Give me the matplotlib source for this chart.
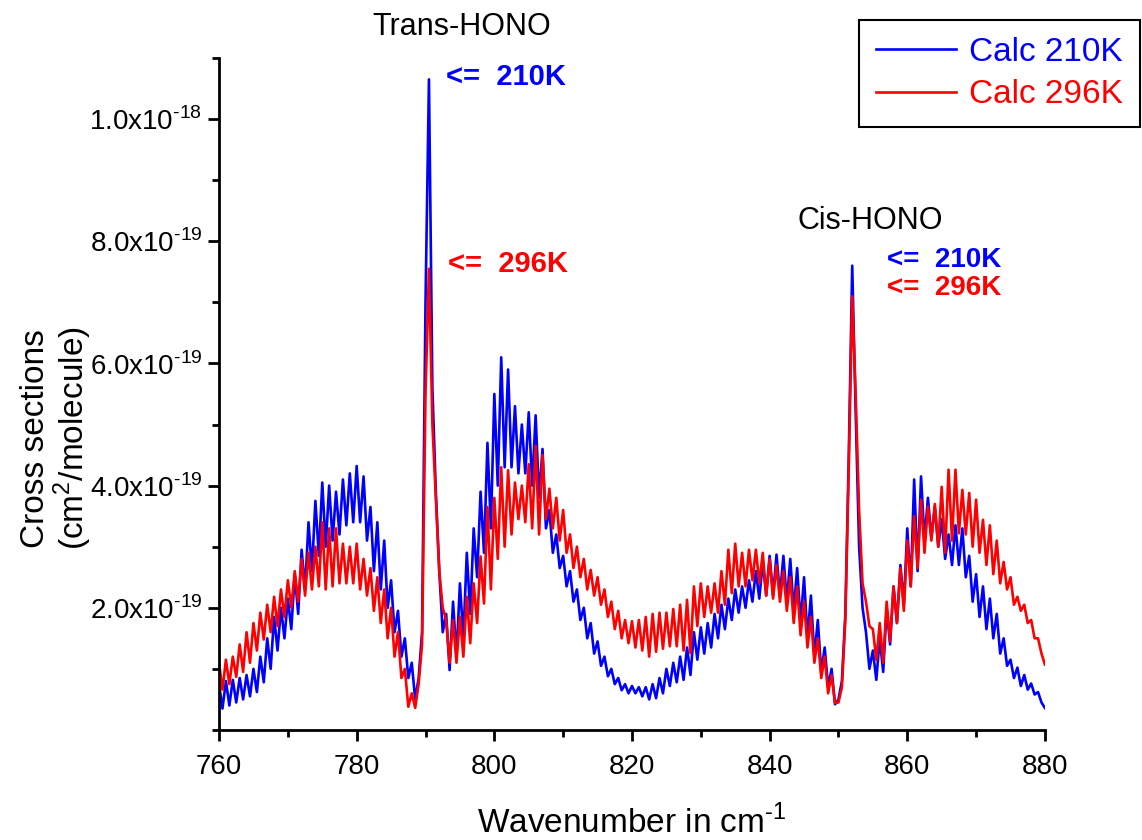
#
# HONO nu4 band cross sections, calculated at 210K and 296K
#
import numpy as np
import matplotlib
matplotlib.use('Agg')
import matplotlib.pyplot as plt
from matplotlib.ticker import MultipleLocator, FixedLocator, FuncFormatter

# wavenumber grid (cm-1), 0.5 step
wn_start, wn_stop, wn_step = 760.0, 880.0, 0.5

# cross sections in units of 1e-19 cm2/molecule
calc_210K = [
    0.75, 0.35, 0.80, 0.40, 0.82, 0.45, 0.85, 0.50, 0.90, 0.55,   # 760
    1.00, 0.62, 1.20, 0.78, 1.50, 1.00, 1.85, 1.30, 2.00, 1.50,   # 765
    2.15, 1.65, 2.55, 1.90, 2.95, 2.30, 3.40, 2.60, 3.75, 2.85,   # 770
    4.05, 3.00, 4.00, 3.10, 3.90, 3.20, 4.10, 3.35, 4.20, 3.40,   # 775
    4.32, 3.40, 4.15, 3.10, 3.65, 2.60, 3.40, 2.30, 3.10, 2.00,   # 780
    2.45, 1.60, 1.95, 1.20, 1.50, 0.85, 1.10, 0.50, 0.85, 1.60,   # 785
    7.00, 10.65, 5.60, 3.90, 2.60, 1.60, 1.90, 0.98, 2.10, 1.20,  # 790
    2.40, 1.50, 2.90, 1.90, 3.30, 2.50, 3.90, 2.90, 4.70, 3.30,   # 795
    5.50, 4.00, 6.10, 4.30, 5.90, 4.30, 5.30, 4.20, 5.00, 4.20,   # 800
    5.20, 4.00, 5.15, 3.80, 4.60, 3.30, 3.60, 2.90, 3.20, 2.65,   # 805
    2.85, 2.35, 2.60, 2.10, 2.30, 1.80, 2.00, 1.50, 1.75, 1.25,   # 810
    1.45, 1.05, 1.20, 0.88, 1.00, 0.75, 0.85, 0.65, 0.75, 0.60,   # 815
    0.72, 0.60, 0.70, 0.55, 0.70, 0.50, 0.75, 0.52, 0.85, 0.60,   # 820
    1.00, 0.72, 1.10, 0.78, 1.20, 0.82, 1.35, 0.90, 1.60, 1.15,   # 825
    1.68, 1.25, 1.75, 1.35, 1.90, 1.50, 2.05, 1.65, 2.15, 1.80,   # 830
    2.30, 1.92, 2.35, 2.00, 2.45, 2.10, 2.60, 2.15, 2.75, 2.20,   # 835
    2.85, 2.20, 2.87, 2.20, 2.85, 2.10, 2.80, 1.95, 2.65, 1.75,   # 840
    2.50, 1.50, 2.20, 1.20, 1.80, 0.95, 1.35, 0.70, 1.00, 0.42,   # 845
    0.50, 0.80, 1.90, 4.50, 7.60, 5.20, 3.00, 2.00, 1.60, 1.00,   # 850
    1.30, 0.82, 1.50, 0.95, 2.00, 1.40, 2.35, 1.75, 2.70, 2.05,   # 855
    3.30, 2.35, 4.10, 2.60, 4.15, 3.10, 3.80, 3.15, 3.65, 3.00,   # 860
    3.45, 2.80, 3.20, 2.70, 3.35, 2.70, 3.30, 2.50, 2.85, 2.10,   # 865
    2.55, 1.85, 2.35, 1.65, 2.15, 1.50, 1.90, 1.25, 1.50, 1.05,   # 870
    1.15, 0.85, 1.02, 0.72, 0.90, 0.66, 0.76, 0.58, 0.62, 0.45,   # 875
    0.36,                                                         # 880
]

calc_296K = [
    1.10, 0.66, 1.15, 0.75, 1.20, 0.87, 1.40, 0.95, 1.60, 1.10,   # 760
    1.75, 1.30, 1.92, 1.48, 2.05, 1.60, 2.18, 1.70, 2.30, 1.85,   # 765
    2.45, 2.00, 2.60, 2.10, 2.80, 2.20, 2.90, 2.30, 3.00, 2.35,   # 770
    3.40, 2.30, 3.30, 2.35, 3.30, 2.40, 3.05, 2.40, 3.00, 2.40,   # 775
    3.05, 2.30, 2.80, 2.20, 2.65, 1.95, 2.50, 1.75, 2.30, 1.50,   # 780
    2.00, 1.20, 1.60, 0.85, 1.00, 0.38, 0.60, 0.36, 0.75, 1.40,   # 785
    5.50, 7.55, 5.00, 3.80, 2.60, 2.00, 1.80, 1.10, 1.80, 1.10,   # 790
    1.85, 1.20, 2.18, 1.42, 2.40, 1.75, 2.84, 2.07, 3.65, 2.30,   # 795
    3.80, 2.80, 4.30, 3.00, 4.25, 3.20, 4.05, 3.45, 4.00, 3.40,   # 800
    4.35, 3.30, 4.65, 3.20, 4.50, 3.45, 3.95, 3.30, 3.80, 3.10,   # 805
    3.60, 2.90, 3.20, 2.65, 3.00, 2.50, 2.80, 2.30, 2.62, 2.20,   # 810
    2.50, 2.05, 2.30, 1.85, 2.10, 1.65, 1.95, 1.50, 1.80, 1.42,   # 815
    1.78, 1.35, 1.80, 1.30, 1.85, 1.20, 1.90, 1.28, 1.92, 1.33,   # 820
    1.92, 1.37, 1.98, 1.37, 2.05, 1.30, 2.13, 1.26, 2.35, 1.70,   # 825
    2.40, 1.85, 2.35, 1.92, 2.40, 1.92, 2.60, 2.05, 2.95, 2.24,   # 830
    3.05, 2.35, 2.90, 2.35, 2.95, 2.45, 2.95, 2.40, 2.90, 2.20,   # 835
    2.80, 2.15, 2.70, 2.10, 2.60, 1.95, 2.50, 1.75, 2.35, 1.55,   # 840
    2.10, 1.35, 1.85, 1.10, 1.50, 0.85, 1.20, 0.60, 0.90, 0.44,   # 845
    0.45, 0.70, 1.80, 4.30, 7.10, 5.50, 3.60, 2.40, 2.10, 1.70,   # 850
    1.65, 1.15, 1.75, 1.10, 2.10, 1.45, 2.35, 1.75, 2.65, 1.95,   # 855
    3.10, 2.35, 3.50, 2.65, 3.77, 2.90, 3.66, 3.10, 3.70, 3.00,   # 860
    3.98, 2.90, 4.26, 3.10, 4.26, 3.22, 3.93, 3.20, 3.88, 3.00,   # 865
    3.77, 2.90, 3.44, 2.70, 3.35, 2.55, 3.10, 2.40, 2.75, 2.30,   # 870
    2.50, 2.05, 2.18, 1.95, 2.05, 1.75, 1.80, 1.50, 1.50, 1.25,   # 875
    1.07,                                                         # 880
]

series_labels = ['Calc 210K', 'Calc 296K']
series_colors = ['#0000ff', '#ff0000']

plt.rcParams['font.family'] = ['Liberation Sans', 'DejaVu Sans']
plt.rcParams['mathtext.fontset'] = 'custom'
plt.rcParams['mathtext.rm'] = 'Liberation Sans'

wn = np.arange(wn_start, wn_stop + wn_step / 2, wn_step)
data = [np.array(calc_210K) * 1e-19, np.array(calc_296K) * 1e-19]

fig = plt.figure(figsize=(11.42, 8.40), dpi=100)
ax = fig.add_axes([0.1918, 0.131, 0.7232, 0.800])

for y, lab, col in zip(data, series_labels, series_colors):
    ax.plot(wn, y, color=col, lw=1.9, label=lab)

ax.set_xlim(760, 880)
ax.set_ylim(0, 1.1e-18)

ax.spines['top'].set_visible(False)
ax.spines['right'].set_visible(False)
ax.spines['left'].set_linewidth(2)
ax.spines['bottom'].set_linewidth(2)

ax.xaxis.set_major_locator(MultipleLocator(20))
ax.xaxis.set_minor_locator(MultipleLocator(10))
ax.yaxis.set_major_locator(FixedLocator([2e-19, 4e-19, 6e-19, 8e-19, 1e-18]))
ax.yaxis.set_minor_locator(MultipleLocator(1e-19))


def sci_fmt(v, pos):
    m, e = '{:.1e}'.format(v).split('e')
    return r'{}x10$^{{\text{{{}}}}}$'.format(m, int(e))


ax.yaxis.set_major_formatter(FuncFormatter(sci_fmt))
ax.tick_params(which='major', direction='out', length=8, width=2)
ax.tick_params(which='minor', direction='out', length=5, width=2)
ax.tick_params(axis='x', which='major', pad=9, labelsize=20)
ax.tick_params(axis='y', which='major', pad=4, labelsize=20)

ax.set_xlabel(r'Wavenumber in cm$^{\text{-1}}$', fontsize=24, labelpad=18)
fig.text(0.050, 0.478, 'Cross sections\n' + r'(cm$^{\text{2}}$/molecule)',
         rotation=90, ha='center', va='center', fontsize=24, linespacing=1.0)

# band labels and temperature markers
ax.text(795.2, 1.15e-18, 'Trans-HONO', fontsize=22, ha='center', va='center')
ax.text(793.0, 10.69e-19, '<=  210K', color='#0000ff', fontsize=21,
        fontweight='bold', va='center')
ax.text(793.2, 7.62e-19, '<=  296K', color='#ff0000', fontsize=21,
        fontweight='bold', va='center')
ax.text(844.0, 8.33e-19, 'Cis-HONO', fontsize=22, va='center')
ax.text(857.0, 7.70e-19, '<=  210K', color='#0000ff', fontsize=20,
        fontweight='bold', va='center')
ax.text(857.0, 7.24e-19, '<=  296K', color='#ff0000', fontsize=20,
        fontweight='bold', va='center')

leg = ax.legend(loc='upper right', bbox_to_anchor=(0.998, 0.976),
                bbox_transform=fig.transFigure, fontsize=24,
                labelcolor='linecolor', frameon=True, fancybox=False,
                handlelength=2.4, handletextpad=0.4, borderpad=0.5,
                labelspacing=0.35, borderaxespad=0)
leg.get_frame().set_edgecolor('black')
leg.get_frame().set_linewidth(1.5)
leg.get_frame().set_alpha(1)

fig.savefig('out.png', dpi=100)
